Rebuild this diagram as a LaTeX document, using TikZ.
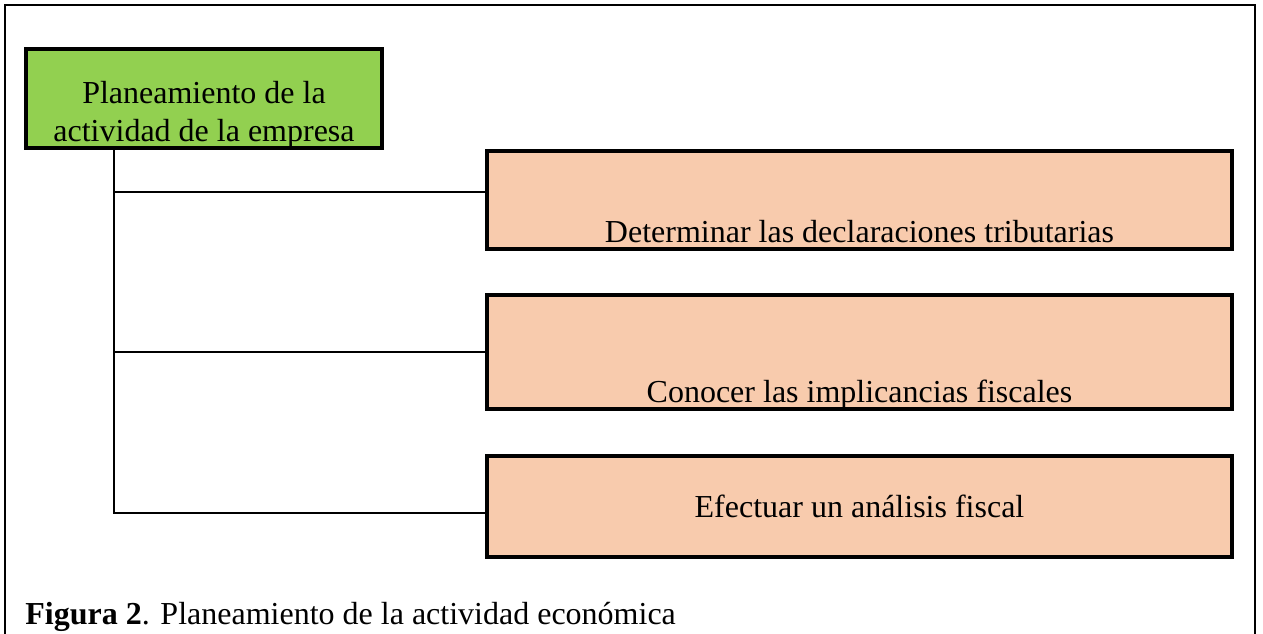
\documentclass[tikz,border=0pt]{standalone}
\usepackage{fontspec}
\setmainfont{Liberation Serif}
\usetikzlibrary{positioning}

\definecolor{verdeplan}{HTML}{92D050}
\definecolor{naranjaplan}{HTML}{F8CBAD}

\tikzset{
	planbox/.style={draw, line width=2pt, fill=verdeplan, align=center, inner xsep=0pt, inner ysep=0pt, minimum width=178pt, minimum height=49.5pt, font=\fontsize{16}{19}\selectfont},
	tareabox/.style={draw, line width=2pt, fill=naranjaplan, inner ysep=0pt, minimum width=372.5pt, text depth=3.5pt, font=\fontsize{16}{19}\selectfont},
	enlace/.style={line width=1pt}
}

\begin{document}
\begin{tikzpicture}[x=0.5pt,y=-0.5pt]
			\useasboundingbox (0,0) rectangle (1263,633);
			\draw[line width=1pt] (5,650) -- (5,5) -- (1255,5) -- (1255,650);
			
			\node[planbox] (plan) at (204,98.5) {\rule{0pt}{27.5pt}Planeamiento de la\\actividad de la empresa};
			
			\node[tareabox, text height=45.5pt] (declaraciones) at (859.5,200) {Determinar las declaraciones tributarias};
			\node[tareabox, text height=53.5pt] (implicancias) at (859.5,352) {Conocer las implicancias fiscales};
			\node[tareabox, text height=30.5pt, text depth=20pt] (analisis) at (859.5,506.5) {Efectuar un análisis fiscal};
			
			\coordinate (tronco) at ([xshift=45pt]plan.south west);
			\coordinate (rama1) at ([yshift=4pt]declaraciones.west);
			\coordinate (rama3) at ([yshift=-3.25pt]analisis.west);
			\draw[enlace] (tronco) |- (rama3);
			\draw[enlace] (tronco |- rama1) -- (rama1);
			\draw[enlace] (tronco |- implicancias.west) -- (implicancias.west);
			
			\node[anchor=base west, inner sep=0pt, font=\fontsize{16}{19}\selectfont] (leyenda) at (25,624) {\textbf{Figura 2}. Planeamiento de la actividad económica};
		\end{tikzpicture}
\end{document}
